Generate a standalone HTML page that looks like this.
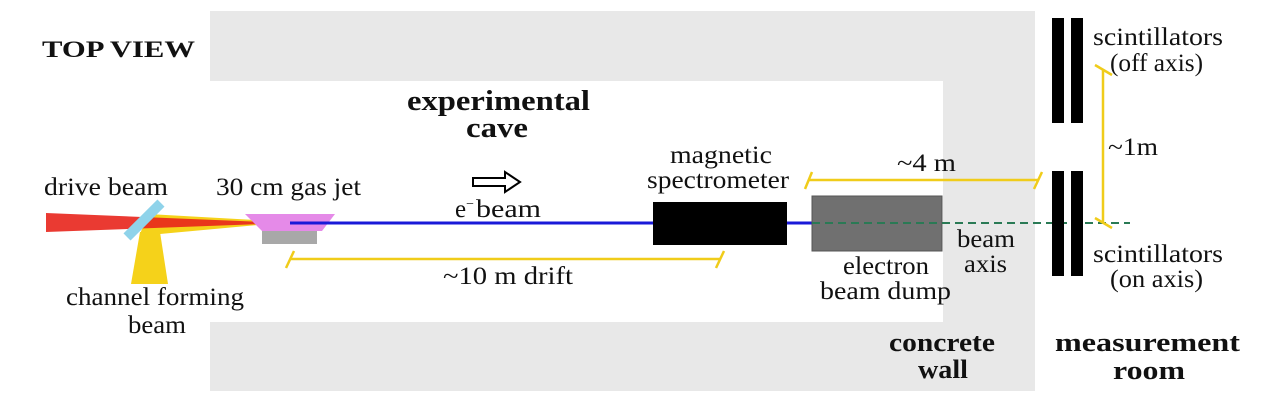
<!DOCTYPE html>
<html><head><meta charset="utf-8"><style>
html,body{margin:0;padding:0;background:#fff;}
svg{display:block;}
text{font-family:"Liberation Serif",serif;fill:#111;}
</style></head><body>
<svg width="1280" height="411" viewBox="0 0 1280 411">
<rect x="0" y="0" width="1280" height="411" fill="#fff"/>
<path d="M210 11H1035V391H210V322H943V81H210Z" fill="#e8e8e8"/>
<g font-weight="bold">
<text x="42" y="57" font-size="23" textLength="153" lengthAdjust="spacingAndGlyphs">TOP VIEW</text>
<text x="407" y="110" font-size="28" textLength="183" lengthAdjust="spacingAndGlyphs">experimental</text>
<text x="466" y="137" font-size="28" textLength="62" lengthAdjust="spacingAndGlyphs">cave</text>
<text x="889" y="351" font-size="26" textLength="106" lengthAdjust="spacingAndGlyphs">concrete</text>
<text x="918" y="378" font-size="26" textLength="50" lengthAdjust="spacingAndGlyphs">wall</text>
<text x="1055" y="351" font-size="26" textLength="185" lengthAdjust="spacingAndGlyphs">measurement</text>
<text x="1113" y="379" font-size="26" textLength="72" lengthAdjust="spacingAndGlyphs">room</text>
</g>
<polygon points="148,214 290,222 160,234 140,234" fill="#f5d21a"/>
<polygon points="140,232 160,232 168,284 131,284" fill="#f5d21a"/>
<polygon points="46,213 290,223 46,232" fill="#e8251c" opacity="0.9"/>
<rect x="120" y="215" width="48" height="10" fill="#8fd3ea" transform="rotate(-45 144 220)"/>
<polygon points="245,214 335,214 322,231 262,231" fill="#e58ae8"/>
<rect x="262" y="231" width="55" height="13" fill="#a8a8a8"/>
<line x1="290" y1="223" x2="812" y2="223" stroke="#1a1ad8" stroke-width="3"/>
<rect x="653" y="202" width="134" height="43" fill="#000"/>
<rect x="812" y="196" width="130" height="55" fill="#707070" stroke="#555" stroke-width="1"/>
<line x1="812" y1="223" x2="1130" y2="223" stroke="#2a7a55" stroke-width="2" stroke-dasharray="8,5"/>
<rect x="1052" y="18" width="12" height="105" fill="#000"/>
<rect x="1071" y="18" width="12" height="105" fill="#000"/>
<rect x="1052" y="171" width="12" height="105" fill="#000"/>
<rect x="1071" y="171" width="12" height="105" fill="#000"/>
<g stroke="#f0cc1a" stroke-width="2.5" fill="none">
<line x1="290" y1="259" x2="720" y2="259"/><line x1="286" y1="268" x2="294" y2="251"/><line x1="716" y1="268" x2="724" y2="251"/>
<line x1="808" y1="180" x2="1038" y2="180"/><line x1="805" y1="189" x2="812" y2="172"/><line x1="1034" y1="189" x2="1042" y2="172"/>
<line x1="1103" y1="70" x2="1103" y2="222"/><line x1="1095" y1="65" x2="1112" y2="75"/><line x1="1095" y1="218" x2="1112" y2="228"/>
</g>
<polygon points="473,178 505,178 505,172 520,182 505,192 505,186 473,186" fill="#fff" stroke="#000" stroke-width="2"/>
<g font-size="25">
<text x="44" y="195" textLength="124" lengthAdjust="spacingAndGlyphs">drive beam</text>
<text x="216" y="195" textLength="145" lengthAdjust="spacingAndGlyphs">30 cm gas jet</text>
<text x="455" y="217">e<tspan font-size="14" dy="-9">−</tspan><tspan dy="9" x="476" textLength="65" lengthAdjust="spacingAndGlyphs">beam</tspan></text>
<text x="670" y="163" textLength="102" lengthAdjust="spacingAndGlyphs">magnetic</text>
<text x="647" y="188" textLength="142" lengthAdjust="spacingAndGlyphs">spectrometer</text>
<text x="66" y="305" textLength="178" lengthAdjust="spacingAndGlyphs">channel forming</text>
<text x="128" y="333" textLength="58" lengthAdjust="spacingAndGlyphs">beam</text>
<text x="443" y="284" textLength="130" lengthAdjust="spacingAndGlyphs">~10 m drift</text>
<text x="897" y="171" textLength="59" lengthAdjust="spacingAndGlyphs">~4 m</text>
<text x="843" y="274" textLength="86" lengthAdjust="spacingAndGlyphs">electron</text>
<text x="820" y="299" textLength="131" lengthAdjust="spacingAndGlyphs">beam dump</text>
<text x="957" y="247" textLength="58" lengthAdjust="spacingAndGlyphs">beam</text>
<text x="964" y="272" textLength="43" lengthAdjust="spacingAndGlyphs">axis</text>
<text x="1093" y="45" textLength="130" lengthAdjust="spacingAndGlyphs">scintillators</text>
<text x="1110" y="71" textLength="93" lengthAdjust="spacingAndGlyphs">(off axis)</text>
<text x="1108" y="155" textLength="50" lengthAdjust="spacingAndGlyphs">~1m</text>
<text x="1093" y="262" textLength="130" lengthAdjust="spacingAndGlyphs">scintillators</text>
<text x="1110" y="287" textLength="93" lengthAdjust="spacingAndGlyphs">(on axis)</text>
</g>
</svg>
</body></html>
